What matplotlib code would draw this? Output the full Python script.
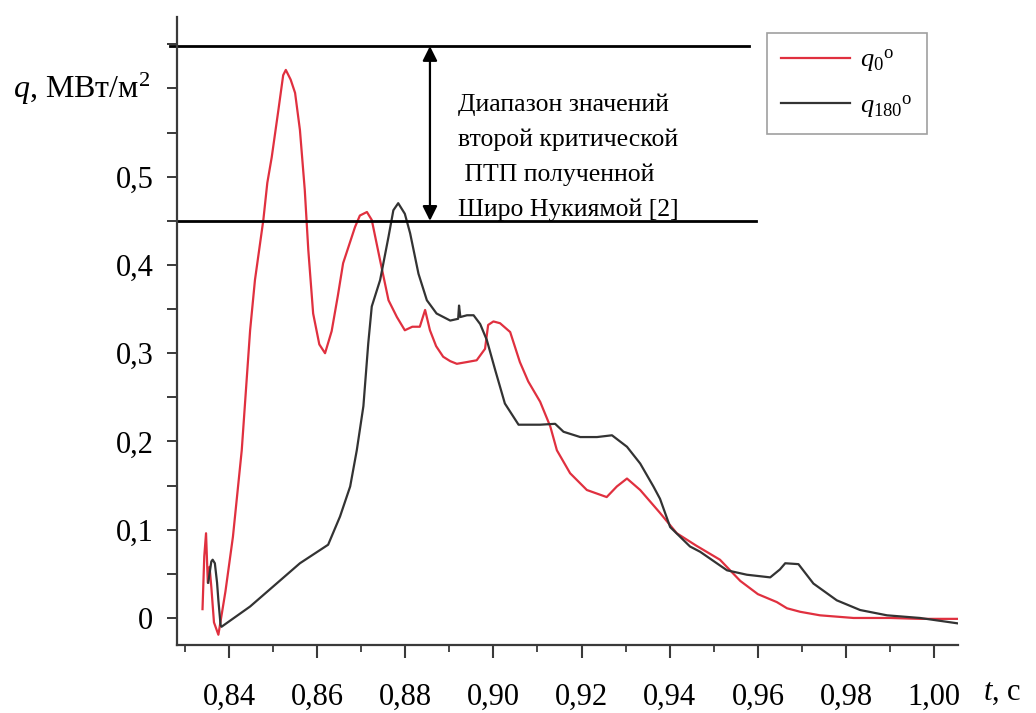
import numpy as np
import matplotlib.pyplot as plt
from matplotlib.ticker import MultipleLocator, FixedLocator, FixedFormatter

plt.rcParams['font.family'] = ['Liberation Serif', 'DejaVu Serif']
plt.rcParams['mathtext.fontset'] = 'custom'
plt.rcParams['mathtext.rm'] = 'Liberation Serif'
plt.rcParams['mathtext.it'] = 'Liberation Serif:italic'

# heat flux at 0 deg
t_q0 = [0.8340, 0.8344, 0.8348, 0.8352, 0.8356, 0.8360, 0.8366, 0.8376, 0.8392, 0.8409,
        0.8429, 0.8448, 0.8459, 0.8478, 0.8487, 0.8497, 0.8512, 0.8523, 0.8529, 0.8540,
        0.8550, 0.8561, 0.8572, 0.8580, 0.8591, 0.8605, 0.8618, 0.8633, 0.8647, 0.8659,
        0.8686, 0.8697, 0.8713, 0.8724, 0.8743, 0.8762, 0.8781, 0.8799, 0.8816, 0.8833,
        0.8845, 0.8856, 0.8870, 0.8886, 0.8902, 0.8917, 0.8940, 0.8962, 0.8981, 0.8988,
        0.9000, 0.9015, 0.9038, 0.9060, 0.9079, 0.9106, 0.9129, 0.9144, 0.9174, 0.9212,
        0.9257, 0.9280, 0.9303, 0.9333, 0.9378, 0.9416, 0.9460, 0.9514, 0.9560, 0.9600,
        0.9643, 0.9666, 0.9696, 0.9741, 0.9817, 0.9900, 0.9968, 1.0052]
q0 = [0.010, 0.070, 0.096, 0.040, 0.058, 0.035, -0.005, -0.019, 0.030, 0.092,
      0.190, 0.326, 0.383, 0.451, 0.493, 0.522, 0.575, 0.615, 0.621, 0.610,
      0.595, 0.553, 0.485, 0.417, 0.345, 0.310, 0.300, 0.325, 0.365, 0.402,
      0.443, 0.456, 0.460, 0.451, 0.405, 0.360, 0.341, 0.326, 0.330, 0.330,
      0.349, 0.326, 0.308, 0.296, 0.291, 0.288, 0.290, 0.292, 0.305, 0.332,
      0.336, 0.334, 0.324, 0.290, 0.268, 0.245, 0.217, 0.190, 0.164, 0.145,
      0.137, 0.149, 0.158, 0.145, 0.119, 0.096, 0.082, 0.066, 0.042, 0.027,
      0.018, 0.011, 0.007, 0.003, 0.000, 0.000, -0.001, -0.001]

# heat flux at 180 deg
t_q180 = [0.8353, 0.8360, 0.8363, 0.8368, 0.8373, 0.8376, 0.8381, 0.8383, 0.8448, 0.8508,
          0.8561, 0.8625, 0.8652, 0.8675, 0.8690, 0.8705, 0.8716, 0.8724, 0.8743, 0.8762,
          0.8773, 0.8784, 0.8799, 0.8811, 0.8830, 0.8849, 0.8871, 0.8902, 0.8920, 0.8922,
          0.8925, 0.8940, 0.8955, 0.8970, 0.8985, 0.9004, 0.9026, 0.9057, 0.9106, 0.9140,
          0.9159, 0.9197, 0.9235, 0.9269, 0.9303, 0.9333, 0.9363, 0.9378, 0.9401, 0.9446,
          0.9469, 0.9530, 0.9575, 0.9628, 0.9650, 0.9662, 0.9692, 0.9726, 0.9779, 0.9832,
          0.9893, 0.9968, 1.0052]
q180 = [0.040, 0.064, 0.066, 0.062, 0.040, 0.020, -0.008, -0.010, 0.013, 0.039,
        0.062, 0.083, 0.115, 0.149, 0.190, 0.240, 0.311, 0.353, 0.383, 0.432,
        0.462, 0.470, 0.458, 0.436, 0.390, 0.360, 0.345, 0.337, 0.339, 0.354,
        0.341, 0.343, 0.343, 0.333, 0.315, 0.281, 0.243, 0.219, 0.219, 0.220,
        0.211, 0.205, 0.205, 0.207, 0.194, 0.175, 0.149, 0.135, 0.103, 0.081,
        0.075, 0.054, 0.049, 0.046, 0.055, 0.062, 0.061, 0.039, 0.020, 0.009,
        0.003, 0.000, -0.006]

# range of the second critical heat flux (Nukiyama)
band_low = 0.450
band_high = 0.648

x_ticks = [0.84, 0.86, 0.88, 0.90, 0.92, 0.94, 0.96, 0.98, 1.00]
x_labels = ['0,84', '0,86', '0,88', '0,90', '0,92', '0,94', '0,96', '0,98', '1,00']
y_ticks = [0.0, 0.1, 0.2, 0.3, 0.4, 0.5, 0.6]
y_labels = ['0', '0,1', '0,2', '0,3', '0,4', '0,5', '']

fig = plt.figure(figsize=(10.36, 7.13), dpi=100)
ax = fig.add_axes([0.1708, 0.0954, 0.7539, 0.8808])

ax.plot(t_q0, q0, color='#e0303f', lw=1.6, label=r'$q_{0}{}^{\mathrm{o}}$')
ax.plot(t_q180, q180, color='#333333', lw=1.6, label=r'$q_{180}{}^{\mathrm{o}}$')

ax.set_xlim(0.8282, 1.0054)
ax.set_ylim(-0.0306, 0.681)

for s in ['top', 'right']:
    ax.spines[s].set_visible(False)
for s in ['left', 'bottom']:
    ax.spines[s].set_color('#3a3a3a')
    ax.spines[s].set_linewidth(1.6)

ax.xaxis.set_major_locator(FixedLocator(x_ticks))
ax.xaxis.set_major_formatter(FixedFormatter(x_labels))
ax.xaxis.set_minor_locator(MultipleLocator(0.01))
ax.yaxis.set_major_locator(FixedLocator(y_ticks))
ax.yaxis.set_major_formatter(FixedFormatter(y_labels))
ax.yaxis.set_minor_locator(MultipleLocator(0.05))
ax.tick_params(axis='x', which='major', length=9, width=1.5, color='#3a3a3a',
               labelsize=22, pad=18)
ax.tick_params(axis='x', which='minor', length=5, width=1.3, color='#3a3a3a')
ax.tick_params(axis='y', which='both', length=7, width=1.4, color='#3a3a3a',
               labelsize=22, pad=10)

# band of critical heat flux values
ax.plot([0.8266, 0.958], [band_high, band_high], color='black', lw=2, clip_on=False)
ax.plot([0.8284, 0.9596], [band_low, band_low], color='black', lw=2, clip_on=False)
ax.annotate('', xy=(0.8856, band_high), xytext=(0.8856, band_low),
            arrowprops=dict(arrowstyle='<|-|>', color='black', lw=1.6,
                            mutation_scale=22, shrinkA=0, shrinkB=0))
ax.text(0.8920, 0.522,
        'Диапазон значений\nвторой критической\n ПТП полученной\nШиро Нукиямой [2]',
        fontsize=18.5, ha='left', va='center', linespacing=1.72)

# axis titles
ax.text(0.8221, 0.6, r'$q$, МВт/м$^{2}$', fontsize=23, ha='right', va='center')
ax.text(1.0110, -0.085, r'$t$, с', fontsize=22, ha='left', va='center', clip_on=False)

leg = ax.legend(loc='upper left', bbox_to_anchor=(0.755, 0.9745), fontsize=19,
                handlelength=2.6, frameon=True, fancybox=False, borderpad=0.55,
                labelspacing=0.7, handletextpad=0.4, borderaxespad=0)
leg.get_frame().set_edgecolor('#888888')
leg.get_frame().set_linewidth(1.2)

fig.savefig('out.png', dpi=100)
